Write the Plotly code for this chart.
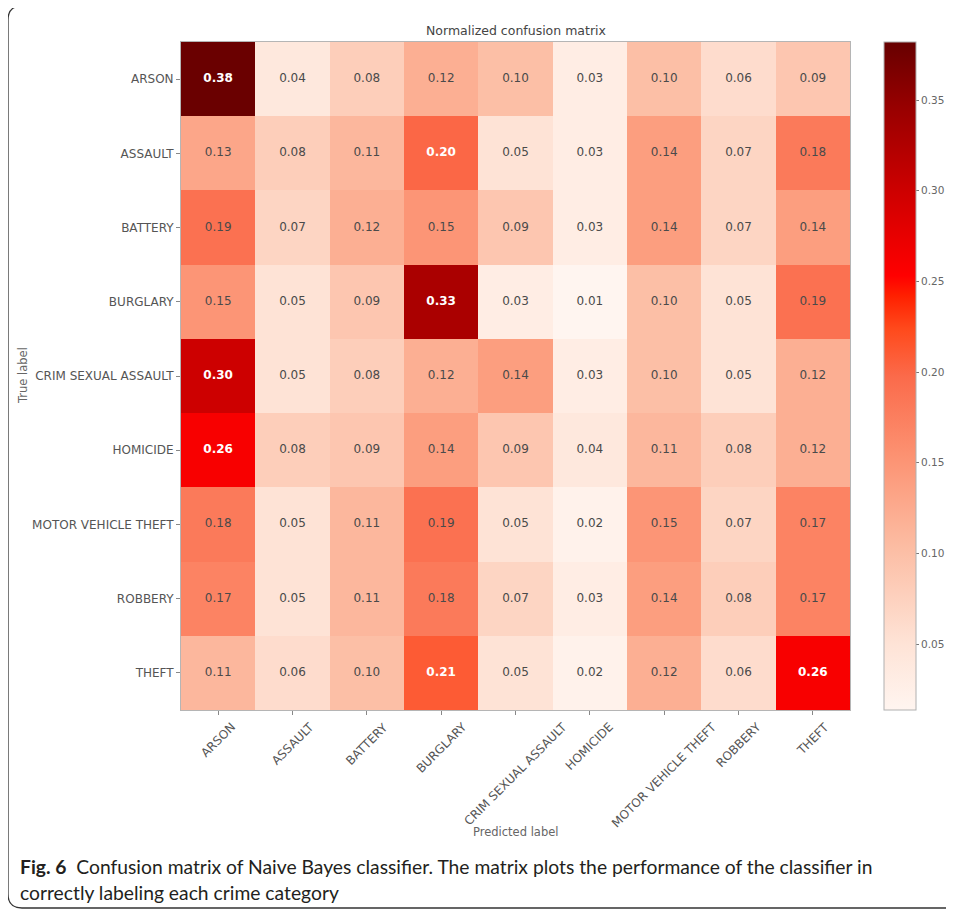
import plotly.graph_objects as go

categories = ["ARSON", "ASSAULT", "BATTERY", "BURGLARY", "CRIM SEXUAL ASSAULT",
              "HOMICIDE", "MOTOR VEHICLE THEFT", "ROBBERY", "THEFT"]

row_arson = [0.38, 0.04, 0.08, 0.12, 0.10, 0.03, 0.10, 0.06, 0.09]
row_assault = [0.13, 0.08, 0.11, 0.20, 0.05, 0.03, 0.14, 0.07, 0.18]
row_battery = [0.19, 0.07, 0.12, 0.15, 0.09, 0.03, 0.14, 0.07, 0.14]
row_burglary = [0.15, 0.05, 0.09, 0.33, 0.03, 0.01, 0.10, 0.05, 0.19]
row_crim_sexual = [0.30, 0.05, 0.08, 0.12, 0.14, 0.03, 0.10, 0.05, 0.12]
row_homicide = [0.26, 0.08, 0.09, 0.14, 0.09, 0.04, 0.11, 0.08, 0.12]
row_mvt = [0.18, 0.05, 0.11, 0.19, 0.05, 0.02, 0.15, 0.07, 0.17]
row_robbery = [0.17, 0.05, 0.11, 0.18, 0.07, 0.03, 0.14, 0.08, 0.17]
row_theft = [0.11, 0.06, 0.10, 0.21, 0.05, 0.02, 0.12, 0.06, 0.26]

matrix = [row_arson, row_assault, row_battery, row_burglary, row_crim_sexual,
          row_homicide, row_mvt, row_robbery, row_theft]

colorbar_ticks = [0.05, 0.10, 0.15, 0.20, 0.25, 0.30, 0.35]

title_text = "Normalized confusion matrix"
xlabel = "Predicted label"
ylabel = "True label"
caption_1 = "<b>Fig. 6</b>  Confusion matrix of Naive Bayes classifier. The matrix plots the performance of the classifier in"
caption_2 = "correctly labeling each crime category"

# page offset (browser body margin) and figure geometry in page px
OFF = 8
W, H = 954 - OFF, 917 - 2 * OFF
L, R, T, B = 181, 850, 42, 710   # plot area in page px
pw, ph = R - L, B - T

def px_x(px):
    return (px - L) / pw

def px_y(py):
    return (B - py) / ph

colorscale = [
    [0.00, "#fff5f0"],
    [0.10, "#fee3d6"],
    [0.25, "#fcbba1"],
    [0.38, "#fc9272"],
    [0.50, "#fb6a4a"],
    [0.57, "#ff4a1c"],
    [0.62, "#ff2000"],
    [0.65, "#ff0000"],
    [0.78, "#cc0000"],
    [0.90, "#990000"],
    [1.00, "#670000"],
]

zmin, zmax = 0.0136, 0.382
thresh = max(max(r) for r in matrix) / 2

fig = go.Figure()
fig.add_trace(go.Heatmap(
    z=matrix, x=categories, y=categories,
    colorscale=colorscale, zmin=zmin, zmax=zmax,
    xgap=0, ygap=0,
    colorbar=dict(
        x=px_x(884), xanchor="left", xref="paper", xpad=0, ypad=0,
        y=0, yanchor="bottom", len=1.0, lenmode="fraction",
        thickness=32, thicknessmode="pixels",
        outlinewidth=1, outlinecolor="#b0b0b0",
        tickvals=colorbar_ticks, ticktext=[f"{v:.2f}" for v in colorbar_ticks],
        ticks="outside", ticklen=3, tickcolor="#777",
        tickfont=dict(family="DejaVu Sans", size=10.5, color="#666"),
    ),
    hoverinfo="skip",
))

xs, ys, texts, colors = [], [], [], []
for i, row in enumerate(matrix):
    for j, v in enumerate(row):
        xs.append(categories[j])
        ys.append(categories[i])
        if v > thresh:
            texts.append(f"<b>{v:.2f}</b>")
            colors.append("#ffffff")
        else:
            texts.append(f"{v:.2f}")
            colors.append("#4a4a4a")

fig.add_trace(go.Scatter(
    x=xs, y=ys, mode="text", text=texts,
    textfont=dict(family="DejaVu Sans", size=12, color=colors),
    hoverinfo="skip", showlegend=False,
))

axis_common = dict(
    showline=True, linecolor="#b5b5b5", linewidth=1, mirror=True,
    ticks="outside", ticklen=4, tickcolor="#888",
    tickfont=dict(family="DejaVu Sans", size=12, color="#555"),
    showgrid=False, zeroline=False,
)

annotations = [
    dict(text=title_text, x=0.5, y=px_y(31), xref="paper", yref="paper",
         showarrow=False, font=dict(family="DejaVu Sans", size=12.5, color="#444"),
         xanchor="center", yanchor="middle"),
    dict(text=xlabel, x=px_x(515), y=px_y(832), xref="paper", yref="paper",
         showarrow=False, font=dict(family="DejaVu Sans", size=11.5, color="#666"),
         xanchor="center", yanchor="middle"),
    dict(text=ylabel, x=px_x(23), y=px_y(376), xref="paper", yref="paper",
         showarrow=False, textangle=-90,
         font=dict(family="DejaVu Sans", size=11.5, color="#666"),
         xanchor="center", yanchor="middle"),
    dict(text=caption_1, x=px_x(18), y=px_y(866), xref="paper", yref="paper",
         showarrow=False, font=dict(family="Lato", size=19.3, color="#231f20"),
         xanchor="left", yanchor="middle"),
    dict(text=caption_2, x=px_x(18), y=px_y(892), xref="paper", yref="paper",
         showarrow=False, font=dict(family="Lato", size=19.3, color="#231f20"),
         xanchor="left", yanchor="middle"),
]

# x tick labels: rotated 45 deg, centred under each tick (matplotlib style)
for c in categories:
    annotations.append(dict(
        text=c, x=c, xref="x", y=px_y(717), yref="paper",
        showarrow=False, textangle=-45, xanchor="center", yanchor="top",
        font=dict(family="DejaVu Sans", size=12, color="#555"),
    ))

fig.update_layout(
    width=W, height=H,
    margin=dict(l=L - OFF, r=(954 - R), t=T - OFF, b=(917 - OFF - B), pad=0,
                autoexpand=False),
    paper_bgcolor="white", plot_bgcolor="white",
    xaxis=dict(showticklabels=False, **axis_common),
    yaxis=dict(autorange="reversed", **axis_common),
    showlegend=False,
    annotations=annotations,
)

# rounded outer frame
x0, x1 = px_x(8), px_x(975)
y0, y1 = px_y(6), px_y(908)
rx, ry = 14 / pw, 14 / ph
path = (f"M {x0 + rx},{y0} L {x1 - rx},{y0} Q {x1},{y0} {x1},{y0 - ry} "
        f"L {x1},{y1 + ry} Q {x1},{y1} {x1 - rx},{y1} "
        f"L {x0 + rx},{y1} Q {x0},{y1} {x0},{y1 + ry} "
        f"L {x0},{y0 - ry} Q {x0},{y0} {x0 + rx},{y0} Z")
fig.add_shape(type="path", path=path, xref="paper", yref="paper",
              line=dict(color="#333", width=1.3), layer="below")

fig.write_html("out.html")
